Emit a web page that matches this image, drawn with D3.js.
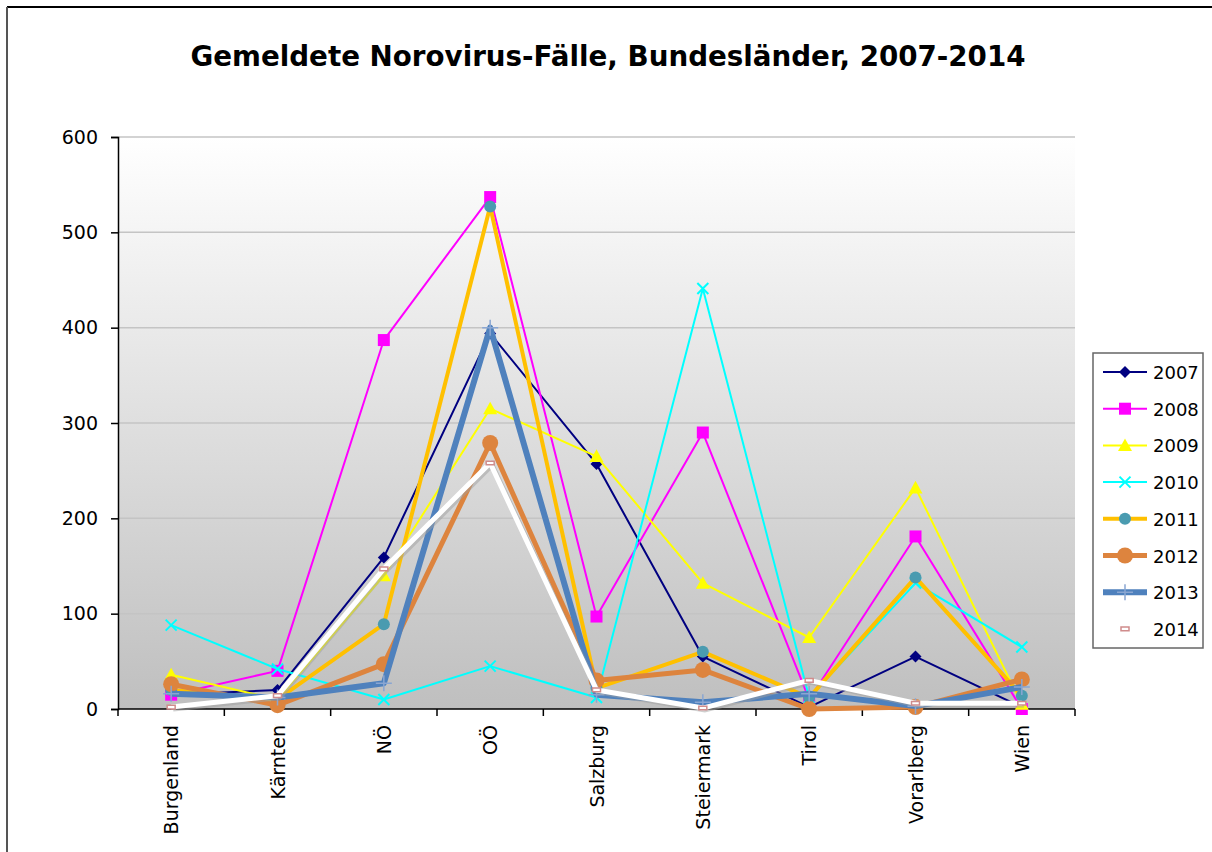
<!DOCTYPE html>
<html>
<head>
<meta charset="utf-8">
<script src="https://cdn.jsdelivr.net/npm/d3@7"></script>
<style>
  body { margin: 0; background: #fff; }
  text { font-family: "DejaVu Sans", Verdana, sans-serif; }
</style>
</head>
<body>
<div id="chart"></div>
<script>
// chart size
const width = 1212;
const height = 852;
const margin = {left: 118, right: 137, top: 137, bottom: 143};

// data
const regions = ["Burgenland", "Kärnten", "NÖ", "OÖ", "Salzburg", "Steiermark", "Tirol", "Vorarlberg", "Wien"];
const years = ["2007", "2008", "2009", "2010", "2011", "2012", "2013", "2014"];
const v2007 = [15, 20, 159, 394, 257, 55, 2, 55, 2];
const v2008 = [15, 40, 387, 537, 97, 290, 10, 181, 0];
const v2009 = [36, 10, 140, 315, 265, 132, 75, 232, 5];
const v2010 = [88, 42, 10, 45, 12, 441, 12, 132, 65];
const v2011 = [20, 10, 89, 527, 22, 60, 12, 138, 14];
const v2012 = [26, 4, 47, 279, 30, 41, 0, 2, 31];
const v2013 = [16, 12, 27, 400, 15, 7, 16, 3, 23];
const v2014 = [2, 14, 147, 258, 20, 1, 30, 6, 6];
const yTicks = [0, 100, 200, 300, 400, 500, 600];

// look of each series
const styles = [
  {line: "#000080", width: 2, marker: "diamond", fill: "#000080", size: 12},
  {line: "#ff00ff", width: 2, marker: "square", fill: "#ff00ff", size: 12},
  {line: "#ffff00", width: 2, marker: "triangle", fill: "#ffff00", size: 14},
  {line: "#00ffff", width: 2, marker: "x", fill: "#00ffff", size: 11},
  {line: "#ffc000", width: 4, marker: "circle", fill: "#4a9bb0", size: 12},
  {line: "#dd843e", width: 5, marker: "circle", fill: "#dd843e", size: 16},
  {line: "#4f81bd", width: 6, marker: "plus", fill: "#8aa6d2", size: 16},
  {line: "#ffffff", width: 5, marker: "rect", fill: "#d08c8c", size: 8}
];
const allValues = [v2007, v2008, v2009, v2010, v2011, v2012, v2013, v2014];
const series = years.map((y, i) => ({year: y, values: allValues[i], style: styles[i]}));

const svg = d3.select("#chart")
  .append("svg")
  .attr("width", width)
  .attr("height", height);

// outer frame (only top and left edges show)
svg.append("line").attr("x1", 7).attr("y1", 7).attr("x2", width).attr("y2", 7)
  .attr("stroke", "#000").attr("stroke-width", 2);
svg.append("line").attr("x1", 7).attr("y1", 7).attr("x2", 7).attr("y2", height)
  .attr("stroke", "#555").attr("stroke-width", 2);

// title
svg.append("text")
  .attr("x", 608).attr("y", 66)
  .attr("text-anchor", "middle")
  .attr("font-size", "28px")
  .attr("font-weight", "bold")
  .attr("textLength", 835)
  .attr("lengthAdjust", "spacingAndGlyphs")
  .text("Gemeldete Norovirus-Fälle, Bundesländer, 2007-2014");

// scales
const xScale = d3.scaleBand()
  .domain(regions)
  .range([margin.left, width - margin.right]);

const yScale = d3.scaleLinear()
  .domain([0, 600])
  .range([height - margin.bottom, margin.top]);

const cx = d => xScale(d) + xScale.bandwidth() / 2;

// plot background gradient
const grad = svg.append("defs").append("linearGradient")
  .attr("id", "bg").attr("x1", 0).attr("y1", 0).attr("x2", 0).attr("y2", 1);
grad.append("stop").attr("offset", "0%").attr("stop-color", "#ffffff");
grad.append("stop").attr("offset", "100%").attr("stop-color", "#bfbfbf");

svg.append("rect")
  .attr("x", margin.left).attr("y", margin.top)
  .attr("width", width - margin.left - margin.right)
  .attr("height", height - margin.top - margin.bottom)
  .attr("fill", "url(#bg)");

// gridlines
svg.append("g")
  .selectAll("line")
  .data(yTicks.slice(1))
  .enter()
  .append("line")
    .attr("x1", margin.left).attr("x2", width - margin.right)
    .attr("y1", d => yScale(d)).attr("y2", d => yScale(d))
    .attr("stroke", "#c4c4c4").attr("stroke-width", 1.5);

// y axis
const yAxis = svg.append("g")
  .attr("transform", `translate(${margin.left},0)`)
  .call(d3.axisLeft(yScale).tickValues(yTicks).tickSize(7).tickPadding(13));
yAxis.attr("font-size", 19).attr("font-family", null);
yAxis.selectAll("text").attr("fill", "#000");
yAxis.selectAll("line, path").attr("stroke", "#000").attr("stroke-width", 1.5);

// x axis: ticks between categories
const xAxisG = svg.append("g")
  .attr("transform", `translate(0,${height - margin.bottom})`);
xAxisG.append("line")
  .attr("x1", margin.left).attr("x2", width - margin.right)
  .attr("stroke", "#000").attr("stroke-width", 1.5);
xAxisG.selectAll(".tk")
  .data(d3.range(regions.length + 1))
  .enter()
  .append("line")
    .attr("x1", i => margin.left + i * xScale.bandwidth())
    .attr("x2", i => margin.left + i * xScale.bandwidth())
    .attr("y1", 0).attr("y2", 7)
    .attr("stroke", "#000").attr("stroke-width", 1.5);
xAxisG.selectAll(".lbl")
  .data(regions)
  .enter()
  .append("text")
    .attr("transform", d => `translate(${cx(d) + 7},16) rotate(-90)`)
    .attr("text-anchor", "end")
    .attr("font-size", "19px")
    .text(d => d);

// marker shapes
function markerPath(type, s) {
  const h = s / 2;
  if (type === "diamond") return `M0,${-h}L${h},0L0,${h}L${-h},0Z`;
  if (type === "square") return `M${-h},${-h}H${h}V${h}H${-h}Z`;
  if (type === "triangle") return `M0,${-h}L${h},${h * 0.8}L${-h},${h * 0.8}Z`;
  if (type === "x") return `M${-h},${-h}L${h},${h}M${-h},${h}L${h},${-h}`;
  if (type === "plus") return `M${-h},0H${h}M0,${-h}V${h}`;
  if (type === "circle") return d3.symbol(d3.symbolCircle, Math.PI * h * h)();
  if (type === "rect") return `M${-h},${-h / 2.2}H${h}V${h / 2.2}H${-h}Z`;
}

function drawMarker(g, st) {
  const p = g.append("path").attr("d", markerPath(st.marker, st.size));
  if (st.marker === "x") p.attr("fill", "none").attr("stroke", st.fill).attr("stroke-width", 2);
  else if (st.marker === "plus") p.attr("fill", "none").attr("stroke", st.fill).attr("stroke-width", 1.5);
  else if (st.marker === "rect") p.attr("fill", "#fff").attr("stroke", st.fill).attr("stroke-width", 1.5);
  else p.attr("fill", st.fill);
}

const line = d3.line()
  .x((d, i) => cx(regions[i]))
  .y(d => yScale(d));

// series
series.forEach(s => {
  const g = svg.append("g");
  if (s.year === "2014") {
    g.append("path")
      .attr("d", line(s.values))
      .attr("fill", "none")
      .attr("stroke", "#a0a0a0").attr("stroke-opacity", 0.5)
      .attr("stroke-width", s.style.width)
      .attr("transform", "translate(2,2)");
  }
  g.append("path")
    .attr("d", line(s.values))
    .attr("fill", "none")
    .attr("stroke", s.style.line)
    .attr("stroke-width", s.style.width)
    .attr("stroke-linejoin", "round");
  s.values.forEach((v, i) => {
    const m = g.append("g").attr("transform", `translate(${cx(regions[i])},${yScale(v)})`);
    drawMarker(m, s.style);
  });
});

// legend
const legend = svg.append("g").attr("transform", "translate(1093,353)");
legend.append("rect")
  .attr("width", 110).attr("height", 295)
  .attr("fill", "#fff").attr("stroke", "#666").attr("stroke-width", 1.5);
series.forEach((s, i) => {
  const ly = 19 + i * 36.7;
  const row = legend.append("g").attr("transform", `translate(0,${ly})`);
  row.append("line")
    .attr("x1", 10).attr("x2", 54)
    .attr("stroke", s.style.line)
    .attr("stroke-width", s.style.width);
  const m = row.append("g").attr("transform", "translate(32,0)");
  drawMarker(m, s.style);
  row.append("text")
    .attr("x", 60).attr("y", 7)
    .attr("font-size", "18px")
    .text(s.year);
});
</script>
</body>
</html>
